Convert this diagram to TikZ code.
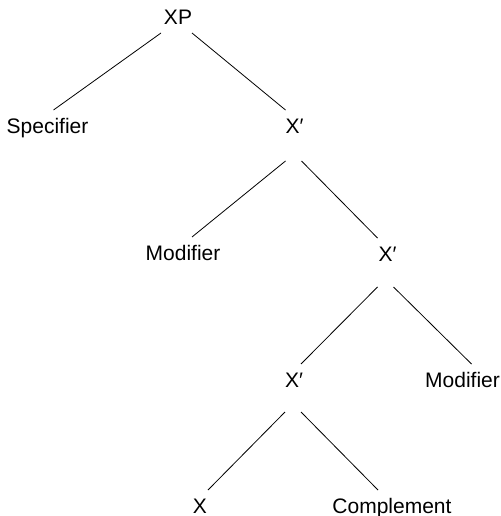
\documentclass[tikz,border=0pt]{standalone}
\usepackage{fontspec}
\setmainfont{Liberation Sans}
\usetikzlibrary{calc}

\begin{document}
\begin{tikzpicture}[x=1pt,y=-1pt,
		lbl/.style={anchor=base,inner sep=0pt,font=\fontsize{21}{25}\selectfont}]
				\useasboundingbox (0,0) rectangle (500,516);
				
				\node[lbl] (xp) at (178,25) {XP};
				\node[lbl] (spec) at (47.5,133) {Specifier};
				\node[lbl] (xa) at (294.5,133) {X′};
				\node[lbl] (moda) at (183,260) {Modifier};
				\node[lbl] (xb) at (387.5,261) {X′};
				\node[lbl] (xc) at (294,387) {X′};
				\node[lbl] (modb) at (462.5,387) {Modifier};
				\node[lbl] (x) at (200,513) {X};
				\node[lbl] (comp) at (392,513) {Complement};
				
				\foreach \p/\a/\h/\c/\b in {xp/-17/8/spec/6, xp/14/8/xa/-9,
					xa/-9/28/moda/9, xa/7/28/xb/-10,
					xb/-10/26/xc/7, xb/6/26/modb/9,
					xc/-9/25/x/8, xc/7/25/comp/-14}{
					\draw[line width=0.8pt] ($(\p.base)+(\a,\h)$) -- ($(\c.base)+(\b,-23)$);}
			\end{tikzpicture}
\end{document}
